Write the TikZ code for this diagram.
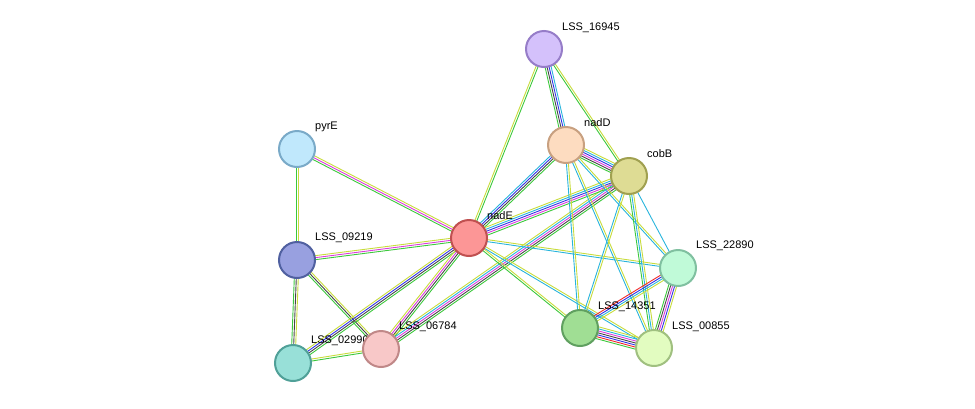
\documentclass[tikz,border=0pt]{standalone}
\usepackage{fontspec}
\setmainfont{Liberation Sans}
\usetikzlibrary{calc,backgrounds}
\definecolor{egreen}{RGB}{60,200,60}
\definecolor{eyellow}{RGB}{200,220,60}
\definecolor{emagenta}{RGB}{220,60,220}
\definecolor{eblue}{RGB}{50,50,230}
\definecolor{ecyan}{RGB}{40,180,220}
\definecolor{eblack}{RGB}{70,70,70}
\definecolor{ered}{RGB}{240,40,40}
% protein fill / border
\definecolor{fA}{HTML}{D4C1FB}\definecolor{dA}{HTML}{967DC8}
\definecolor{fB}{HTML}{FDDCC0}\definecolor{dB}{HTML}{C8A080}
\definecolor{fC}{HTML}{DEDC94}\definecolor{dC}{HTML}{A0A050}
\definecolor{fD}{HTML}{C0E8FC}\definecolor{dD}{HTML}{7AAAC8}
\definecolor{fE}{HTML}{FC9696}\definecolor{dE}{HTML}{C05050}
\definecolor{fF}{HTML}{98A0E0}\definecolor{dF}{HTML}{5060A0}
\definecolor{fG}{HTML}{C0FAD8}\definecolor{dG}{HTML}{80C0A0}
\definecolor{fH}{HTML}{A0DE94}\definecolor{dH}{HTML}{60A060}
\definecolor{fI}{HTML}{E2FCC0}\definecolor{dI}{HTML}{A0C080}
\definecolor{fJ}{HTML}{98E0D8}\definecolor{dJ}{HTML}{50A098}
\definecolor{fK}{HTML}{F8C8C8}\definecolor{dK}{HTML}{C08888}
\tikzset{
  prot/.style={circle,minimum size=36pt,inner sep=0pt,line width=2pt,fill=f#1,draw=d#1},
  lbl/.style={anchor=west,font=\fontsize{11}{13}\selectfont,inner sep=0pt},
}
% #1,#2 nodes, #3 number of lines, #4 colours
\newcommand{\edge}[4]{%
  \foreach \c [count=\i] in {#4}{%
    \pgfmathsetmacro\off{(\i-(#3+1)/2)*2}
    \draw[\c,line width=0.9pt] ($(#1)!\off pt!90:(#2)$) -- ($(#2)!\off pt!-90:(#1)$);
  }}

\begin{document}
\begin{tikzpicture}[x=1pt,y=-1pt]
  \useasboundingbox (0,0) rectangle (975,408);
  % labels
  \node[lbl] at (562,28) {LSS\_16945};
  \node[lbl] at (584,123) {nadD};
  \node[lbl] at (647,154) {cobB};
  \node[lbl] at (315,127) {pyrE};
  \node[lbl] at (487,216) {nadE};
  \node[lbl] at (315,238) {LSS\_09219};
  \node[lbl] at (696,246) {LSS\_22890};
  \node[lbl] at (598,307) {LSS\_14351};
  \node[lbl] at (672,327) {LSS\_00855};
  \node[lbl] at (311,341) {LSS\_02990};
  \node[lbl] at (399,327) {LSS\_06784};
  % proteins
  \node[prot=A] (s16945) at (544,49) {};
  \node[prot=B] (nadD) at (566,145) {};
  \node[prot=C] (cobB) at (629,176) {};
  \node[prot=D] (pyrE) at (297,149) {};
  \node[prot=E] (nadE) at (469,238) {};
  \node[prot=F] (s09219) at (297,260) {};
  \node[prot=G] (s22890) at (678,268) {};
  \node[prot=H] (s14351) at (580,328) {};
  \node[prot=I] (s00855) at (654,348) {};
  \node[prot=J] (s02990) at (293,363) {};
  \node[prot=K] (s06784) at (381,349) {};
  % interactions
  \begin{scope}[on background layer]
    \edge{pyrE}{s09219}{2}{egreen,eyellow}
    \edge{pyrE}{nadE}{3}{egreen,emagenta,eyellow}
    \edge{s09219}{nadE}{3}{egreen,emagenta,eyellow}
    \edge{s09219}{s02990}{3}{egreen,eblack,eyellow}
    \edge{s09219}{s06784}{3}{egreen,eblack,eyellow}
    \edge{s02990}{s06784}{2}{egreen,eyellow}
    \edge{s02990}{nadE}{4}{egreen,eblack,eblue,eyellow}
    \edge{s06784}{nadE}{4}{egreen,eblack,emagenta,eyellow}
    \edge{s06784}{cobB}{5}{egreen,eblack,emagenta,ecyan,eyellow}
    \edge{nadE}{s16945}{2}{egreen,eyellow}
    \edge{nadE}{nadD}{4}{egreen,eblack,eblue,ecyan}
    \edge{nadE}{cobB}{5}{egreen,emagenta,eblue,ecyan,eyellow}
    \edge{nadE}{s22890}{2}{ecyan,eyellow}
    \edge{nadE}{s00855}{2}{ecyan,eyellow}
    \edge{nadE}{s14351}{2}{egreen,eyellow}
    \edge{s16945}{nadD}{4}{egreen,eblack,eblue,ecyan}
    \edge{s16945}{cobB}{2}{egreen,eyellow}
    \edge{nadD}{cobB}{6}{egreen,eblack,emagenta,eblue,ecyan,eyellow}
    \edge{nadD}{s14351}{2}{ecyan,eyellow}
    \edge{nadD}{s00855}{2}{ecyan,eyellow}
    \edge{nadD}{s22890}{2}{ecyan,eyellow}
    \edge{cobB}{s22890}{1}{ecyan}
    \edge{cobB}{s14351}{2}{ecyan,eyellow}
    \edge{cobB}{s00855}{3}{egreen,ecyan,eyellow}
    \edge{s22890}{s14351}{4}{ered,eblue,ecyan,eyellow}
    \edge{s22890}{s00855}{5}{egreen,eblack,emagenta,eblue,eyellow}
    \edge{s14351}{s00855}{7}{egreen,ered,eblue,eblack,emagenta,ecyan,eyellow}
  \end{scope}
\end{tikzpicture}
\end{document}
